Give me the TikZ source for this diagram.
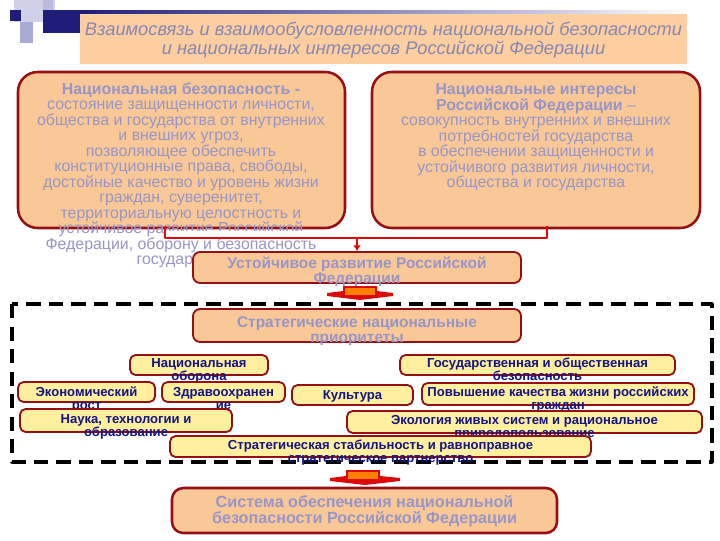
\documentclass[tikz,border=0pt]{standalone}
\usepackage{fontspec}
\setmainfont{Liberation Sans}
\usetikzlibrary{fit,arrows.meta}
\definecolor{peach}{RGB}{250,200,150}
\definecolor{paleorange}{RGB}{252,206,160}
\definecolor{boxred}{RGB}{150,15,20}
\definecolor{linkred}{RGB}{220,10,10}
\definecolor{lilac}{RGB}{150,150,200}
\definecolor{lemon}{RGB}{255,240,160}
\definecolor{navytext}{RGB}{20,20,130}
\definecolor{deepnavy}{RGB}{30,30,120}
\definecolor{lavender}{RGB}{170,170,215}
\tikzset{
  titlebox/.style={fill=paleorange,inner sep=0pt},
  bigbox/.style={draw=boxred,fill=peach,line width=1.8pt,rounded corners=14pt,inner sep=0pt},
  midbox/.style={draw=boxred,fill=peach,line width=1.3pt,rounded corners=5pt,inner sep=0pt},
  prioritybox/.style={draw=boxred,fill=lemon,line width=1.3pt,rounded corners=4pt,inner sep=0pt},
  % texts are placed at the baseline of their last line
  boxtext/.style={text=lilac,align=center,inner sep=0pt,anchor=base,font=\fontsize{11.3}{11}\selectfont},
  headtext/.style={boxtext,font=\bfseries\fontsize{11}{11}\selectfont},
  prioritytext/.style={text=navytext,align=center,inner sep=0pt,anchor=base,font=\bfseries\fontsize{9.3}{9.5}\selectfont},
  link/.style={draw=linkred,line width=1.6pt},
  blockarrow/.style={fill=linkred},
  every picture/.style={line join=round}
}

\begin{document}
\begin{tikzpicture}[x=0.025cm,y=-0.025cm]
  \useasboundingbox (0,0) rectangle (720,540);
  % decoration in the corner
  \fill[lavender!55] (14,0) rectangle (55,22);
  \fill[lavender] (20,22) rectangle (33,43);
  \fill[lavender!80] (43,0) rectangle (53,22);
  \fill[deepnavy] (10,10) rectangle (21,21);
  \fill[deepnavy] (43,10) rectangle (80,33);
  \node[titlebox,fit={(80,12) (687,64)}] (title) {};
  \shade[left color=deepnavy,right color=white] (80,10) rectangle (690,13);
  \node[text=lilac!90!black,align=center,inner sep=0pt,anchor=base,font=\itshape\fontsize{13}{13.5}\selectfont] (titletext) at (title.north |- 0,54.5)
    {Взаимосвязь и взаимообусловленность национальной безопасности\\и национальных интересов Российской Федерации};

  \node[bigbox,fit={(18,72) (345,228)}] (nb) {};
  \node[boxtext] (nbtext) at (181,264.5)
    {\textbf{Национальная безопасность -}\\состояние защищенности личности,\\общества и государства от внутренних\\и внешних угроз,\\позволяющее обеспечить\\конституционные права, свободы,\\достойные качество и уровень жизни\\граждан, суверенитет,\\территориальную целостность и\\устойчивое развитие Российской\\Федерации, оборону и безопасность\\государства};
  \node[bigbox,fit={(372,72) (700,228)}] (ni) {};
  \node[boxtext] (nitext) at (536,187.5)
    {\textbf{Национальные интересы}\\\textbf{Российской Федерации} –\\совокупность внутренних и внешних\\потребностей государства\\в обеспечении защищенности и\\устойчивого развития личности,\\общества и государства};

  \coordinate (lk) at (165,238);
  \coordinate (rk) at (547,238);
  \fill[white] ([yshift=-1.3pt]nb.south -| lk) rectangle (rk);
  \draw[link] ([yshift=2pt]nb.south -| lk) -- (lk) -- (rk) -- ([yshift=2pt]ni.south -| rk);

  \node[midbox,fit={(193,252) (521,283)}] (ur) {};
  \node[headtext] (urtext) at (ur.north |- 0,283.5) {Устойчивое развитие Российской\\Федерации};
  \draw[linkred,line width=1.8pt,-{Latex[length=4pt,width=5.5pt]}] (lk -| ur.north) -- (ur.north);

  \fill[blockarrow] (327,293) -- (343,291) -- (343,286) -- (377,286) -- (377,291) -- (393,293)
    -- (393,296) -- (360,300) -- (327,296) -- cycle;
  \fill[orange] (345,288) rectangle (375,295);

  \draw[line width=2.2pt,dash pattern=on 10pt off 6pt] (12,304) rectangle (712,462);

  \node[midbox,fit={(193,309) (521,342)}] (sp) {};
  \node[headtext] (sptext) at (sp.north |- 0,342.5) {Стратегические национальные\\приоритеты};

  % priorities
  \node[prioritybox,fit={(130,355) (268,375)}] (defence) {};
  \node[prioritytext] at (defence.north |- 0,380.9) {Национальная\\оборона};
  \node[prioritybox,fit={(400,355) (675,375)}] (security) {};
  \node[prioritytext] at (security.north |- 0,380.9) {Государственная и общественная\\безопасность};
  \node[prioritybox,fit={(18,382) (155,402)}] (growth) {};
  \node[prioritytext] at (growth.north |- 0,409.9) {Экономический\\рост};
  \node[prioritybox,fit={(162,382) (285,402)}] (health) {};
  \node[prioritytext] at (health.north |- 0,409.9) {Здравоохранен\\ие};
  \node[prioritybox,fit={(292,385) (413,405)}] (culture) {};
  \node[prioritytext] at (culture.north |- 0,399.5) {Культура};
  \node[prioritybox,fit={(422,383) (694,405)}] (quality) {};
  \node[prioritytext] at (quality.north |- 0,409.9) {Повышение качества жизни российских\\граждан};
  \node[prioritybox,fit={(20,409) (232,432)}] (science) {};
  \node[prioritytext] at (science.north |- 0,436.9) {Наука, технологии и\\образование};
  \node[prioritybox,fit={(347,411) (702,433)}] (ecology) {};
  \node[prioritytext] at (ecology.north |- 0,437.9) {Экология живых систем и рациональное\\природопользование};
  \node[prioritybox,fit={(170,436) (591,457)}] (stability) {};
  \node[prioritytext] at (stability.north |- 0,462.9) {Стратегическая стабильность и равноправное\\стратегическое партнерство};

  \fill[blockarrow] (330,478) -- (346,476) -- (346,470) -- (380,470) -- (380,476) -- (400,478)
    -- (400,481) -- (365,485) -- (330,481) -- cycle;
  \fill[orange] (348,472) rectangle (378,479);

  \node[bigbox,rounded corners=8pt,fit={(172,488) (557,533)}] (sys) {};
  \node[headtext,font=\bfseries\fontsize{11.5}{11.3}\selectfont] (systext) at (sys.north |- 0,523)
    {Система обеспечения национальной\\безопасности Российской Федерации};
\end{tikzpicture}
\end{document}
